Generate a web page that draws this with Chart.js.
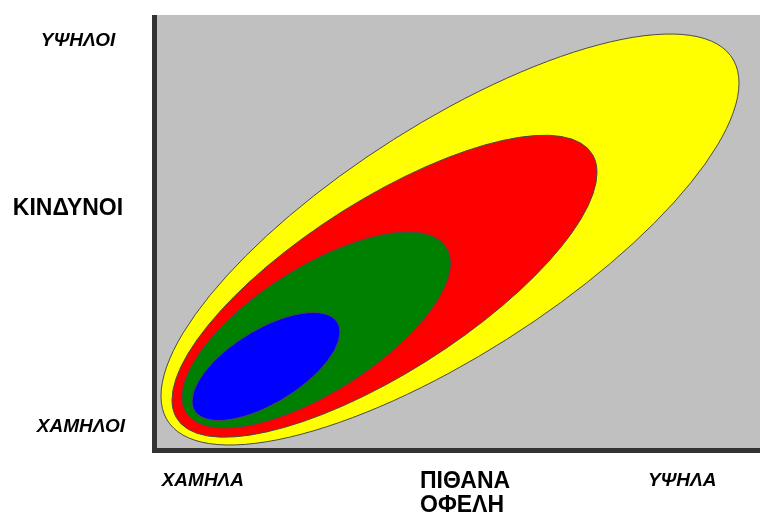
<!DOCTYPE html>
<html>
<head>
<meta charset="utf-8">
<script src="https://cdn.jsdelivr.net/npm/chart.js@4"></script>
<style>
  html, body { margin: 0; padding: 0; background: #fff; }
  #wrap { width: 760px; height: 519px; }
</style>
</head>
<body>
<div id="wrap"><canvas id="myChart" width="760" height="519"></canvas></div>
<script>
// each zone is an ellipse (0-100 on both axes):
// its centre, its right-most point and the height of its top
const zoneColors = ['#0000ff', '#008000', '#ff0000', '#ffff00'];
const centerX = [18.08, 26.41, 37.73, 48.59];
const centerY = [18.82, 27.25, 37.36, 48.15];
const rightX = [30.35, 48.67, 72.97, 96.52];
const rightY = [26.79, 42.73, 63.63, 84.30];
const topY = [31.29, 49.88, 72.23, 95.61];

const xTickLabels = ['ΧΑΜΗΛΑ', 'ΥΨΗΛΑ'];
const xTickValues = [7.6, 87.1];
const yTickLabels = ['ΧΑΜΗΛΟΙ', 'ΥΨΗΛΟΙ'];
const yTickValues = [5, 94];
const xTitle = ['ΠΙΘΑΝΑ', 'ΟΦΕΛΗ'];
const yTitle = 'ΚΙΝΔΥΝΟΙ';

const datasets = zoneColors.map((c, i) => ({
    data: [
        {x: centerX[i], y: centerY[i]},
        {x: rightX[i], y: rightY[i]},
        {x: centerX[i], y: topY[i]}
    ],
    backgroundColor: c,
    borderColor: '#4a4a4a',
    pointRadius: 0
}));

// draw each zone as the ellipse given by its three points
const ellipses = {
    id: 'ellipses',
    beforeDatasetDraw(chart, args) {
        const pts = args.meta.data;
        const ds = chart.data.datasets[args.index];
        const c = pts[0], r = pts[1], t = pts[2];
        const ux = r.x - c.x, uy = r.y - c.y;
        const h = c.y - t.y;
        const s = Math.sqrt(Math.max(h * h - uy * uy, 1));
        const ctx = chart.ctx;
        ctx.save();
        ctx.beginPath();
        ctx.save();
        ctx.transform(ux, uy, 0, s, c.x, c.y);
        ctx.arc(0, 0, 1, 0, Math.PI * 2);
        ctx.restore();
        ctx.fillStyle = ds.backgroundColor;
        ctx.fill();
        ctx.lineWidth = 1;
        ctx.strokeStyle = ds.borderColor;
        ctx.stroke();
        ctx.restore();
    }
};

const frame = {
    id: 'frame',
    beforeDraw(chart) {
        const {ctx, chartArea: a} = chart;
        ctx.save();
        ctx.fillStyle = '#fff';
        ctx.fillRect(0, 0, chart.width, chart.height);
        ctx.fillStyle = '#c0c0c0';
        ctx.fillRect(a.left, a.top, a.right - a.left, a.bottom - a.top);
        ctx.restore();
    },
    afterDraw(chart) {
        const {ctx, chartArea: a, scales} = chart;
        ctx.save();
        ctx.strokeStyle = '#333';
        ctx.lineWidth = 5;
        ctx.beginPath();
        ctx.moveTo(a.left - 2.5, a.top);
        ctx.lineTo(a.left - 2.5, a.bottom + 5);
        ctx.moveTo(a.left - 5, a.bottom + 2.5);
        ctx.lineTo(a.right, a.bottom + 2.5);
        ctx.stroke();

        ctx.fillStyle = '#000';
        ctx.textBaseline = 'middle';
        ctx.textAlign = 'center';
        ctx.font = 'italic bold 19px "Liberation Sans", Arial, sans-serif';
        ctx.fillText(yTickLabels[0], 81, scales.y.getPixelForValue(yTickValues[0]));
        ctx.fillText(yTickLabels[1], 78, scales.y.getPixelForValue(yTickValues[1]));
        xTickLabels.forEach((t, i) => ctx.fillText(t, scales.x.getPixelForValue(xTickValues[i]), 481));

        ctx.font = 'bold 23px "Liberation Sans", Arial, sans-serif';
        ctx.fillText(yTitle, 68, 209);
        ctx.textAlign = 'left';
        ctx.fillText(xTitle[0], 420, 482);
        ctx.fillText(xTitle[1], 420, 506);
        ctx.restore();
    }
};

const config = {
    type: 'scatter',
    data: { datasets: datasets },
    options: {
        responsive: false,
        animation: false,
        layout: { padding: { left: 157, right: 0, top: 15, bottom: 71 } },
        scales: {
            x: { type: 'linear', min: 0, max: 100, display: false },
            y: { type: 'linear', min: 0, max: 100, display: false }
        },
        plugins: {
            legend: { display: false },
            tooltip: { enabled: false }
        }
    },
    plugins: [frame, ellipses]
};

const myChart = new Chart(document.getElementById('myChart'), config);
</script>
</body>
</html>
